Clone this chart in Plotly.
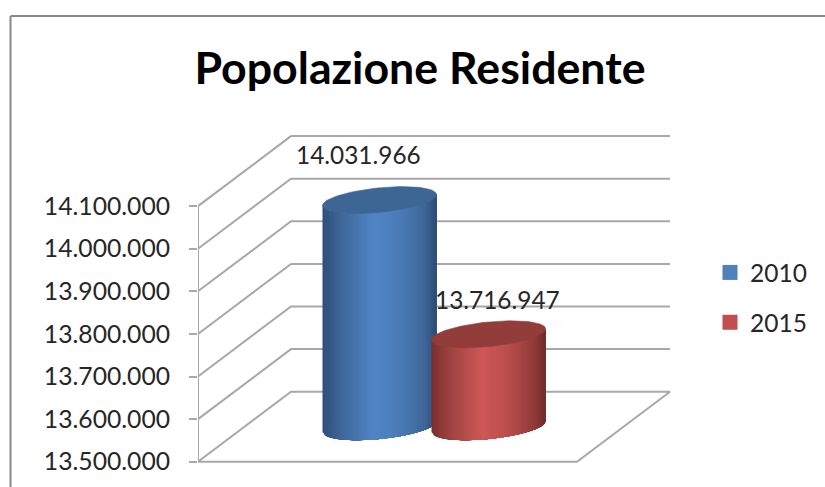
import math
import plotly.graph_objects as go

TITLE = "Popolazione Residente"
SERIES = ["2010", "2015"]
VALUES = [14031966, 13716947]
TICKS = [13500000, 13600000, 13700000, 13800000, 13900000, 14000000, 14100000]
COL_MAIN = ["#4f81bd", "#c0504d"]
COL_TOP = ["#3e6695", "#923d3a"]
BODY_STOPS = [
    [(0.0, "#2e4f78"), (0.18, "#41699c"), (0.45, "#5085c6"), (0.7, "#4a7ab5"), (0.9, "#3d6596"), (1.0, "#2b4a72")],
    [(0.0, "#7a2f2d"), (0.18, "#a24442"), (0.45, "#cf5856"), (0.7, "#b64c4a"), (0.9, "#8f3b39"), (1.0, "#702b29")],
]
GRID = "#a8a8a8"
FRAME = "#888888"
TXT = "#262626"
FONT = "Lato"

# plot-area placement in pixels
W, H = 825, 487
L, R_PX, T, B_PX = 198.0, 825.0, 100.0, 487.0
BASE_PX = 461.7                    # pixel row of the lowest tick
PX_PER_VAL = 42.6 / 100000
X_SPAN = 379.0                     # front floor width in px
DX = 93.0 / X_SPAN                 # depth shear on x (x-axis units)
DY = 70.0 / PX_PER_VAL             # depth shear on y (value units)
Y0 = TICKS[0]
Y_LO = Y0 - (B_PX - BASE_PX) / PX_PER_VAL
Y_HI = Y0 + (BASE_PX - T) / PX_PER_VAL
# cylinder shape in axis units
RX = 57.0 / X_SPAN
RY = 12.3 / PX_PER_VAL
SK = 5.5 / PX_PER_VAL
CLUSTER_OFF = 54.5 / X_SPAN
N_STRIP = 60


def lerp_col(stops, f):
    for (f0, c0), (f1, c1) in zip(stops, stops[1:]):
        if f <= f1:
            k = (f - f0) / (f1 - f0)
            a = [int(c0[i:i + 2], 16) for i in (1, 3, 5)]
            b = [int(c1[i:i + 2], 16) for i in (1, 3, 5)]
            return "rgb(%d,%d,%d)" % tuple(round(u + (v - u) * k) for u, v in zip(a, b))
    return stops[-1][1]


def ell(cx, cy, t):
    return cx + RX * math.cos(t), cy - RY * math.sin(t) + SK * math.cos(t)


fig = go.Figure()

# walls and floor
gx, gy = [], []
for v in TICKS[1:]:
    gx += [0, DX, 1 + DX, None]
    gy += [v, v + DY, v + DY, None]
gx += [0, 0, None, 0, DX, 1 + DX, 1, 0]
gy += [TICKS[0], TICKS[-1], None, Y0, Y0 + DY, Y0 + DY, Y0, Y0]
fig.add_trace(go.Scatter(x=gx, y=gy, mode="lines", line=dict(color=GRID, width=2),
                         showlegend=False, hoverinfo="skip", cliponaxis=False))

# cylinders: each strip runs to the right edge and is painted over by the next
for i, (name, val) in enumerate(zip(SERIES, VALUES)):
    cx = 0.5 + DX / 2 + (-1 if i == 0 else 1) * CLUSTER_OFF
    top = val + DY / 2
    bot = Y0 + DY / 2
    for k in range(N_STRIP):
        f0 = k / N_STRIP
        pts = [math.acos(max(-1, min(1, 2 * (f0 + (1 - f0) * j / 24) - 1))) for j in range(25)]
        tx, ty = zip(*[ell(cx, top, p) for p in pts])
        bx, by = zip(*[ell(cx, bot, p) for p in reversed(pts)])
        col = lerp_col(BODY_STOPS[i], f0 + 0.5 / N_STRIP)
        fig.add_trace(go.Scatter(x=list(tx) + list(bx), y=list(ty) + list(by), mode="lines",
                                 fill="toself", fillcolor=col, line=dict(width=0),
                                 showlegend=False, hoverinfo="skip", cliponaxis=False))
    angs = [2 * math.pi * j / 90 for j in range(91)]
    ex, ey = zip(*[ell(cx, top, t) for t in angs])
    fig.add_trace(go.Scatter(x=ex, y=ey, mode="lines", fill="toself", fillcolor=COL_TOP[i],
                             line=dict(color=COL_TOP[i], width=0.6), showlegend=False,
                             hoverinfo="skip", cliponaxis=False))
    fig.add_trace(go.Scatter(x=[None], y=[None], mode="markers", name=name,
                             legendgroup=name,
                             marker=dict(symbol="square", size=15, color=COL_MAIN[i])))

# data labels
LABEL_SHIFT = [(-21, 46), (8.5, 34.5)]
for i, val in enumerate(VALUES):
    cx = 0.5 + DX / 2 + (-1 if i == 0 else 1) * CLUSTER_OFF
    fig.add_annotation(x=cx, y=val + DY / 2, xref="x", yref="y", showarrow=False,
                       text=f"{val:,}".replace(",", "."), xshift=LABEL_SHIFT[i][0],
                       yshift=LABEL_SHIFT[i][1], font=dict(family=FONT, size=24.4, color=TXT))

pw, ph = R_PX - L, B_PX - T
px = lambda v: (v - L) / pw
py = lambda v: (B_PX - v) / ph
frame = [dict(type="line", xref="paper", yref="paper", x0=px(10.5), x1=px(825), y0=py(16), y1=py(16),
              line=dict(color=FRAME, width=2)),
         dict(type="line", xref="paper", yref="paper", x0=px(10.5), x1=px(10.5), y0=py(16), y1=py(487),
              line=dict(color=FRAME, width=2))]

fig.update_layout(
    width=W, height=H, autosize=False,
    margin=dict(l=L, r=W - R_PX, t=T, b=H - B_PX, pad=0),
    paper_bgcolor="white", plot_bgcolor="white",
    separators=",.",
    shapes=frame,
    font=dict(family=FONT, color=TXT),
    title=dict(text="<b>%s</b>" % TITLE, x=420.0 / W, xanchor="center", xref="container",
               y=1 - 68 / H, yanchor="middle",
               font=dict(family=FONT, size=44.7, color="#000000")),
    xaxis=dict(range=[0, (R_PX - L) / X_SPAN], visible=False, fixedrange=True),
    yaxis=dict(range=[Y_LO, Y_HI], tickvals=TICKS, tickformat=",d", showgrid=False, zeroline=False,
               showline=False, ticks="outside", ticklen=8, tickwidth=2, tickcolor=GRID,
               tickfont=dict(family=FONT, size=24.7, color=TXT), ticklabelstandoff=14, fixedrange=True),
    legend=dict(x=px(710), y=py(250), xanchor="left", yanchor="top", bgcolor="rgba(0,0,0,0)",
                font=dict(family=FONT, size=24.5, color=TXT), tracegroupgap=15, itemwidth=30),
)

fig.write_html("out.html", config=dict(displayModeBar=False),
               post_script="document.body.style.margin='0';")
